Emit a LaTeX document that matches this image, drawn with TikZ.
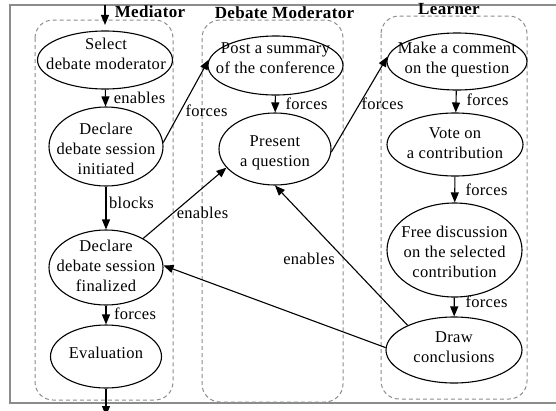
\documentclass[tikz,border=0pt]{standalone}
\usepackage{fontspec}
\setmainfont[LetterSpace=2]{Liberation Serif}
\usetikzlibrary{shapes.geometric,arrows.meta}
\definecolor{clgray}{RGB}{140,140,140}
\begin{document}
\begin{tikzpicture}[x=1pt,y=-1pt,
  ell/.style={ellipse,draw,line width=1.1pt,inner sep=0pt},
  txt/.style={align=center,inner sep=0pt,font=\fontsize{16.5}{20}\selectfont},
  elab/.style={inner sep=0pt,font=\fontsize{16.5}{20}\selectfont},
  clab/.style={inner sep=0pt,font=\fontsize{17}{20}\selectfont\bfseries},
  cluster/.style={draw=clgray,dash pattern=on 4pt off 3pt,rounded corners=18pt,line width=1pt},
  edge/.style={draw,line width=1.1pt,-{Triangle[length=10pt,width=8pt]}},
]
\useasboundingbox (0,0) rectangle (556,410);
\draw[clgray,line width=1.2pt] (10,5) rectangle (575,403);

% clusters
\draw[cluster] (35,20) rectangle (173,400);
\draw[cluster] (202,20) rectangle (343,402);
\draw[cluster] (381,16) rectangle (527,399);
\node[clab] (lmed) at (150,12) {Mediator};
\node[clab] (lmod) at (284.5,12.3) {Debate Moderator};
\node[clab] (llea) at (449,9) {Learner};

% Mediator nodes
\node[ell,minimum width=135pt,minimum height=58pt] (select) at (105,60) {};
\node[txt] (select-t) at (106,53.5) {Select\\debate moderator};
\node[ell,minimum width=114pt,minimum height=79pt] (init) at (106,146.5) {};
\node[txt] (init-t) at (106,149) {Declare\\debate session\\initiated};
\node[ell,minimum width=114pt,minimum height=75pt] (final) at (106,267.5) {};
\node[txt] (final-t) at (106,265.5) {Declare\\debate session\\finalized};
\node[ell,minimum width=111pt,minimum height=63pt] (eval) at (106,356.5) {};
\node[txt] (eval-t) at (106,352.5) {Evaluation};

% Moderator nodes
\node[ell,minimum width=135pt,minimum height=59pt] (post) at (275.5,65.5) {};
\node[txt] (post-t) at (275.5,58.5) {Post a summary\\of the conference};
\node[ell,minimum width=112pt,minimum height=72pt] (present) at (275,149) {};
\node[txt] (present-t) at (275,152.5) {Present\\a question};

% Learner nodes
\node[ell,minimum width=140pt,minimum height=57pt] (comment) at (457,61.5) {};
\node[txt] (comment-t) at (457,59.8) {Make a comment\\on the question};
\node[ell,minimum width=136pt,minimum height=63pt] (vote) at (455,144.5) {};
\node[txt] (vote-t) at (455,143) {Vote on\\a contribution};
\node[ell,minimum width=135pt,minimum height=94pt] (free) at (454.5,250) {};
\node[txt] (free-t) at (454.5,252) {Free discussion\\on the selected\\contribution};
\node[ell,minimum width=136pt,minimum height=66pt] (drawc) at (454,350) {};
\node[txt] (drawc-t) at (454,346.7) {Draw\\conclusions};

% free ends
\coordinate (topin) at (105,5);
\coordinate (botout) at (106,416);

% edges
\draw[edge,shorten >=5.5pt] (topin) -- (select);
\draw[edge] (select) -- (init);
\draw[edge] (init) -- (final);
\draw[edge] (final) -- (eval);
\draw[edge] (eval) -- (botout);
\draw[edge] (init.4) -- (post.175);
\draw[edge] (final.38) -- (present.201);
\draw[edge] (post) -- (present);
\draw[edge] (present.357) -- (comment.176);
\draw[edge] (comment) -- (vote);
\draw[edge] (vote) -- (free);
\draw[edge] (free) -- (drawc);
\draw[edge] (drawc.152) -- (present.270);
\draw[edge] (drawc.178) -- (final.2);

% edge labels
\node[elab] (l1) at (139.5,97.5) {enables};
\node[elab] (l2) at (206.5,111) {forces};
\node[elab] (l3) at (131.5,203) {blocks};
\node[elab] (l4) at (202.5,212.5) {enables};
\node[elab] (l5) at (306.5,104) {forces};
\node[elab] (l6) at (382.5,104) {forces};
\node[elab] (l7) at (487.5,99.5) {forces};
\node[elab] (l8) at (486.5,190) {forces};
\node[elab] (l9) at (309,259) {enables};
\node[elab] (l10) at (486.5,302) {forces};
\node[elab] (l11) at (135,313.5) {forces};
\end{tikzpicture}
\end{document}
